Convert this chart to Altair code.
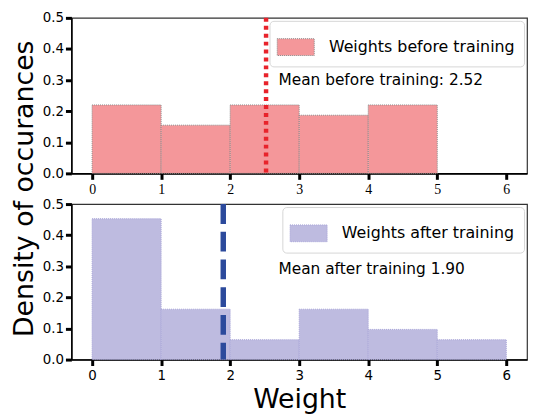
import altair as alt
import pandas as pd

# ---- data ----
bin_starts = [0, 1, 2, 3, 4, 5]
bin_ends = [1, 2, 3, 4, 5, 6]
density_before = [0.220, 0.155, 0.220, 0.187, 0.220]
density_after = [0.453, 0.162, 0.064, 0.162, 0.097, 0.064]
mean_before = 2.52
mean_after = 1.90
label_before = "Weights before training"
label_after = "Weights after training"
text_before = "Mean before training: 2.52"
text_after = "Mean after training 1.90"
x_ticks = [0, 1, 2, 3, 4, 5, 6]
y_ticks = [0.0, 0.1, 0.2, 0.3, 0.4, 0.5]

W, H = 460, 157

def panel(dens, mean, name, fill, edge, line_color, dash, line_w, text,
          top=True):
    n = len(dens)
    df = pd.DataFrame({"start": bin_starts[:n], "end": bin_ends[:n],
                       "density": dens, "series": [name] * n})
    xaxis = alt.Axis(values=x_ticks, format="d", grid=False,
                     labelFont="Liberation Serif" if top else "DejaVu Sans",
                     labelFontSize=14 if top else 13.5,
                     labelOverlap=False,
                     title="Weight" if not top else None,
                     titleFontSize=27, titleFont="DejaVu Sans",
                     titleFontWeight="normal", titlePadding=5,
                     labelPadding=3)
    yaxis = alt.Axis(values=y_ticks, format=".1f", grid=False,
                     labelOverlap=False, labelFontSize=13.5,
                     title="Density of occurances" if not top else None,
                     titleFontSize=27, titleFont="DejaVu Sans",
                     titleFontWeight="normal",
                     titleY=-16, titleX=-33, titleAngle=-90,
                     titleAlign="center", titleBaseline="bottom")
    xs = alt.Scale(domain=[-0.3, 6.3], nice=False, zero=False)
    ys = alt.Scale(domain=[0, 0.5], nice=False)
    bars = alt.Chart(df).mark_rect(stroke=edge, strokeWidth=1,
                                   strokeDash=[1, 1], opacity=1).encode(
        x=alt.X("start:Q", scale=xs, axis=xaxis),
        x2="end:Q",
        y=alt.Y("density:Q", scale=ys, axis=yaxis),
        y2=alt.datum(0),
        color=alt.Color("series:N",
                        scale=alt.Scale(domain=[name], range=[fill]),
                        legend=alt.Legend(
                            title=None, orient="top-right", offset=3,
                            fillColor="white", strokeColor="#d6d6d6",
                            cornerRadius=4, padding=9,
                            labelFontSize=16, labelFont="DejaVu Sans",
                            labelColor="black", labelLimit=400,
                            symbolType="M-1.1,-0.5H1.1V0.5H-1.1Z",
                            symbolSize=1156, symbolStrokeColor=edge,
                            symbolStrokeWidth=1, symbolDash=[1, 1],
                            symbolOpacity=1, labelOffset=16)),
    )
    mdf = pd.DataFrame({"mean": [mean]})
    rule = alt.Chart(mdf).mark_rule(color=line_color, strokeWidth=line_w,
                                    strokeDash=dash).encode(
        x=alt.X("mean:Q", scale=xs, axis=xaxis))
    tdf = pd.DataFrame({"x": [2.7], "y": [0.30 if top else 0.29],
                        "t": [text]})
    txt = alt.Chart(tdf).mark_text(align="left", baseline="middle",
                                   fontSize=15.5, font="DejaVu Sans",
                                   color="black").encode(
        x=alt.X("x:Q", scale=xs, axis=xaxis),
        y=alt.Y("y:Q", scale=ys, axis=yaxis),
        text="t:N")
    return alt.layer(bars, rule, txt).properties(width=W, height=H)

top = panel(density_before, mean_before, label_before, "#f4979a", "#8c8c8c",
            "#e8232b", [4, 4], 4.5, text_before, top=True)
bottom = panel(density_after, mean_after, label_after, "#bebbe0", "#a7a4d8",
               "#2c4a9c", [20, 8], 5.5, text_after, top=False)

chart = alt.vconcat(top, bottom, spacing=31, bounds="flush").resolve_scale(
    color="independent").properties(
    padding={"left": 2, "top": 0, "right": 0, "bottom": 0}).configure_view(
    stroke="#333333", strokeWidth=1.2).configure_axis(
    domainColor="black", domainWidth=1.6, tickColor="black", tickWidth=3,
    tickSize=6, labelColor="black", labelFontSize=13.5,
    labelFont="DejaVu Sans", titleColor="black")

chart.save("out.html", embed_options={"renderer": "svg", "actions": False})
